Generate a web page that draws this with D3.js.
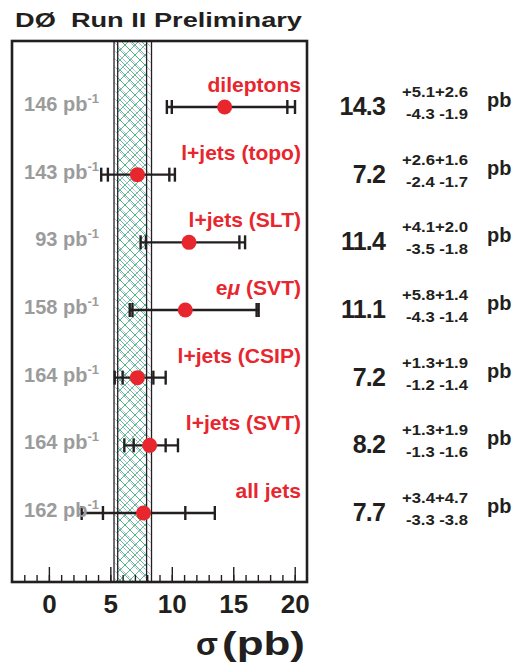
<!DOCTYPE html>
<html>
<head>
<meta charset="utf-8">
<script src="https://cdn.jsdelivr.net/npm/d3@7"></script>
<style>
  body { margin: 0; background: #fff; }
  text { font-family: 'Liberation Sans', Arial, Helvetica, sans-serif; font-weight: bold; }
</style>
</head>
<body>
<div id="chart"></div>
<script>
// measurements, top to bottom
let channels = ['dileptons', 'l+jets (topo)', 'l+jets (SLT)', 'eμ (SVT)', 'l+jets (CSIP)', 'l+jets (SVT)', 'all jets']
let lumis = [146, 143, 93, 158, 164, 164, 162]
let xsec = [14.3, 7.2, 11.4, 11.1, 7.2, 8.2, 7.7]
let statUp = [5.1, 2.6, 4.1, 5.8, 1.3, 1.3, 3.4]
let statDn = [4.3, 2.4, 3.5, 4.3, 1.2, 1.3, 3.3]
let sysUp = [2.6, 1.6, 2.0, 1.4, 1.9, 1.9, 4.7]
let sysDn = [1.9, 1.7, 1.8, 1.4, 1.4, 1.6, 3.8]

// combined band (total and stat)
let bandOuter = [5.3, 8.35]
let bandInner = [5.6, 7.95]

let xTicks = [0, 5, 10, 15, 20]
let minorTicks = d3.range(-2, 21)

let red = '#e8262d'
let grey = '#9b9b9b'
let ink = '#231f20'

let width = 521
let height = 666
let frame = { left: 12, right: 307, top: 41, bottom: 582 }

let svg = d3
  .select('#chart')
  .append('svg')
  .attr('width', width)
  .attr('height', height)

let xPositionScale = d3.scaleLinear().domain([-3, 21]).range([frame.left, frame.right])
let yPositionScale = d3.scalePoint().domain(channels).range([107, 513])

let datapoints = channels.map((c, i) => {
  return {
    name: c,
    lumi: lumis[i],
    value: xsec[i],
    statLo: xsec[i] - statDn[i],
    statHi: xsec[i] + statUp[i],
    totLo: xsec[i] - Math.sqrt(statDn[i] * statDn[i] + sysDn[i] * sysDn[i]),
    totHi: xsec[i] + Math.sqrt(statUp[i] * statUp[i] + sysUp[i] * sysUp[i]),
    up: '+' + statUp[i].toFixed(1) + '+' + sysUp[i].toFixed(1),
    dn: '-' + statDn[i].toFixed(1) + ' -' + sysDn[i].toFixed(1)
  }
})

// hatch patterns
let defs = svg.append('defs')
let blue = defs
  .append('pattern')
  .attr('id', 'hatch-blue')
  .attr('patternUnits', 'userSpaceOnUse')
  .attr('width', 8)
  .attr('height', 8)
blue.append('path')
  .attr('d', 'M-1,-1 L9,9 M-1,7 L1,9 M7,-1 L9,1')
  .attr('stroke', '#4a58b0')
  .attr('stroke-width', 0.7)
  .attr('stroke-dasharray', '1,0.8')

let green = defs
  .append('pattern')
  .attr('id', 'hatch-green')
  .attr('patternUnits', 'userSpaceOnUse')
  .attr('width', 10)
  .attr('height', 10)
green.append('path')
  .attr('d', 'M-1,-1 L11,11 M-1,9 L1,11 M9,-1 L11,1 M-1,11 L11,-1 M-1,1 L1,-1 M9,11 L11,9')
  .attr('stroke', '#34a96c')
  .attr('stroke-width', 0.8)

// frame background
svg
  .append('rect')
  .attr('x', frame.left)
  .attr('y', frame.top)
  .attr('width', frame.right - frame.left)
  .attr('height', frame.bottom - frame.top)
  .attr('fill', 'white')

// band
svg
  .append('rect')
  .attr('x', xPositionScale(bandOuter[0]))
  .attr('y', frame.top)
  .attr('width', xPositionScale(bandOuter[1]) - xPositionScale(bandOuter[0]))
  .attr('height', frame.bottom - frame.top)
  .attr('fill', 'url(#hatch-blue)')

svg
  .append('rect')
  .attr('x', xPositionScale(bandInner[0]))
  .attr('y', frame.top)
  .attr('width', xPositionScale(bandInner[1]) - xPositionScale(bandInner[0]))
  .attr('height', frame.bottom - frame.top)
  .attr('fill', 'url(#hatch-green)')

svg
  .selectAll('.band-edge')
  .data(bandOuter.concat(bandInner))
  .enter()
  .append('line')
  .attr('class', 'band-edge')
  .attr('x1', d => xPositionScale(d))
  .attr('x2', d => xPositionScale(d))
  .attr('y1', frame.top)
  .attr('y2', frame.bottom)
  .attr('stroke', ink)
  .attr('stroke-width', 1.3)

// ticks on the bottom edge, pointing inward
let minorAxis = d3.axisTop(xPositionScale).tickValues(minorTicks).tickSize(7).tickFormat('')
let majorAxis = d3.axisTop(xPositionScale).tickValues(xTicks).tickSize(15).tickFormat('')
let labelAxis = d3.axisBottom(xPositionScale).tickValues(xTicks).tickSize(0).tickPadding(13)

svg
  .append('g')
  .attr('transform', 'translate(0,' + frame.bottom + ')')
  .call(minorAxis)
  .call(g => g.select('.domain').remove())
  .selectAll('line')
  .attr('stroke', ink)
  .attr('stroke-width', 1.4)

svg
  .append('g')
  .attr('transform', 'translate(0,' + frame.bottom + ')')
  .call(majorAxis)
  .call(g => g.select('.domain').remove())
  .selectAll('line')
  .attr('stroke', ink)
  .attr('stroke-width', 1.4)

svg
  .append('g')
  .attr('transform', 'translate(0,' + frame.bottom + ')')
  .call(labelAxis)
  .call(g => g.select('.domain').remove())
  .selectAll('text')
  .attr('font-family', "'Liberation Sans', Arial, sans-serif")
  .attr('font-weight', 'bold')
  .attr('font-size', 26)
  .attr('fill', ink)

// frame outline
svg
  .append('rect')
  .attr('x', frame.left)
  .attr('y', frame.top)
  .attr('width', frame.right - frame.left)
  .attr('height', frame.bottom - frame.top)
  .attr('fill', 'none')
  .attr('stroke', ink)
  .attr('stroke-width', 2.6)

// error bars
let bars = svg
  .selectAll('.meas')
  .data(datapoints)
  .enter()
  .append('g')
  .attr('class', 'meas')
  .attr('transform', d => 'translate(0,' + yPositionScale(d.name) + ')')

bars
  .append('line')
  .attr('x1', d => xPositionScale(d.totLo))
  .attr('x2', d => xPositionScale(d.totHi))
  .attr('stroke', ink)
  .attr('stroke-width', 2.4)

bars
  .selectAll('.cap')
  .data(d => [d.totLo, d.statLo, d.statHi, d.totHi])
  .enter()
  .append('line')
  .attr('class', 'cap')
  .attr('x1', d => xPositionScale(d))
  .attr('x2', d => xPositionScale(d))
  .attr('y1', -7)
  .attr('y2', 7)
  .attr('stroke', ink)
  .attr('stroke-width', 2.4)

bars
  .append('circle')
  .attr('cx', d => xPositionScale(d.value))
  .attr('r', 7.5)
  .attr('fill', red)

// channel names, slightly widened like the original
let names = bars
  .append('g')
  .attr('transform', 'translate(301,-15) scale(1.08,1)')
  .append('text')
  .attr('text-anchor', 'end')
  .attr('font-size', 19.5)
  .attr('fill', red)

names.each(function(d) {
  let t = d3.select(this)
  if (d.name.indexOf('μ') > -1) {
    let parts = d.name.split('μ')
    t.append('tspan').text(parts[0])
    t.append('tspan').attr('font-style', 'italic').text('μ')
    t.append('tspan').text(parts[1])
  } else {
    t.text(d.name)
  }
})

// luminosity
let lumiText = bars
  .append('text')
  .attr('x', 99)
  .attr('y', 4)
  .attr('text-anchor', 'end')
  .attr('font-size', 20)
  .attr('fill', grey)

lumiText.append('tspan').text(d => d.lumi + ' pb')
lumiText
  .append('tspan')
  .attr('font-size', 13)
  .attr('dy', -8)
  .text('-1')

// results column
bars
  .append('text')
  .attr('x', 385)
  .attr('y', 8)
  .attr('text-anchor', 'end')
  .attr('font-size', 25)
  .attr('letter-spacing', -0.8)
  .attr('fill', ink)
  .text(d => d.value.toFixed(1))

bars
  .append('text')
  .attr('x', 468)
  .attr('y', -10)
  .attr('text-anchor', 'end')
  .attr('font-size', 14)
  .attr('textLength', 66)
  .attr('lengthAdjust', 'spacingAndGlyphs')
  .attr('fill', ink)
  .text(d => d.up)

bars
  .append('text')
  .attr('x', 468)
  .attr('y', 12)
  .attr('text-anchor', 'end')
  .attr('font-size', 14)
  .attr('textLength', 62)
  .attr('lengthAdjust', 'spacingAndGlyphs')
  .attr('fill', ink)
  .text(d => d.dn)

bars
  .append('text')
  .attr('x', 487)
  .attr('y', 0)
  .attr('font-size', 20)
  .attr('fill', ink)
  .text('pb')

// title
svg
  .append('text')
  .attr('x', 15)
  .attr('y', 27)
  .attr('font-size', 21)
  .attr('textLength', 287)
  .attr('lengthAdjust', 'spacingAndGlyphs')
  .attr('fill', ink)
  .text('DØ\u00a0 Run II Preliminary')

// axis title
svg
  .append('text')
  .attr('x', 196)
  .attr('y', 655)
  .attr('font-family', "'Liberation Serif', 'DejaVu Serif', serif")
  .attr('font-weight', 'normal')
  .attr('font-size', 32)
  .attr('fill', ink)
  .text('σ')

svg
  .append('text')
  .attr('x', 222)
  .attr('y', 655)
  .attr('font-size', 34)
  .attr('textLength', 83)
  .attr('lengthAdjust', 'spacingAndGlyphs')
  .attr('fill', ink)
  .text('(pb)')
</script>
</body>
</html>
